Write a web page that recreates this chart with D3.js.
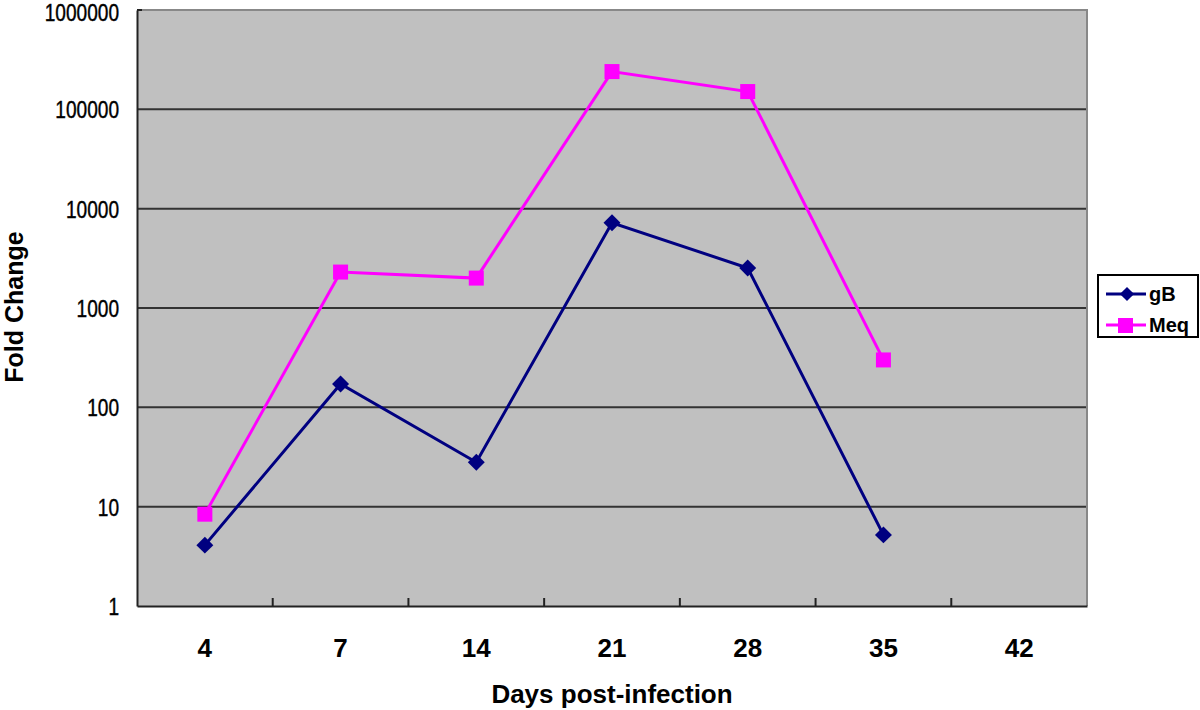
<!DOCTYPE html>
<html><head><meta charset="utf-8">
<script src="https://cdn.jsdelivr.net/npm/d3@7"></script>
<style>body{margin:0;background:#fff;} text{font-family:"Liberation Sans",Arial,sans-serif;}</style>
</head><body>
<svg id="c" width="1200" height="710"></svg>
<script>
const categories = ["4","7","14","21","28","35","42"];
const gB = [4.1, 172, 28, 7200, 2530, 5.2, null];
const Meq = [8.4, 2300, 2000, 240000, 151000, 300, null];
const yTicks = [1,10,100,1000,10000,100000,1000000];
const seriesNames = ["gB","Meq"];
const colors = ["#000080","#FF00FF"];

const svg = d3.select("#c");
const L=137, R=1087, T=10, B=606;
const x = d3.scaleBand().domain(categories).range([L,R]);
const y = d3.scaleLog().domain([1,1e6]).range([B,T]);

svg.append("rect").attr("x",L).attr("y",T).attr("width",R-L).attr("height",B-T).attr("fill","#C0C0C0");
svg.append("g").selectAll("line").data(yTicks.slice(1,-1)).join("line")
  .attr("x1",L).attr("x2",R).attr("y1",d=>y(d)).attr("y2",d=>y(d))
  .attr("stroke","#333").attr("stroke-width",2);
svg.append("path").attr("d",`M${L},${T}H${R}V${B}`).attr("fill","none").attr("stroke","#888").attr("stroke-width",2);

// y axis
const ya = svg.append("g").attr("transform",`translate(${L},0)`)
  .call(d3.axisLeft(y).tickValues(yTicks).tickFormat(d3.format("d")).tickSize(0).tickPadding(18));
ya.select(".domain").attr("stroke","#222").attr("stroke-width",2);
ya.selectAll(".tick text").each(function(d){
  const t = d3.select(this);
  const xx = +t.attr("x");
  const off = d === 1000000 ? 3 : 1;
  t.attr("x",0).attr("transform",`translate(${xx},${off}) scale(0.83,1)`);
}).attr("font-size",23).attr("fill","#000").attr("stroke","#000").attr("stroke-width",0.4)
  .style("font-family","'Liberation Sans',Arial,sans-serif");
svg.append("line").attr("x1",L).attr("x2",L+5).attr("y1",T).attr("y2",T).attr("stroke","#222").attr("stroke-width",2);

// x axis
const xa = svg.append("g").attr("transform",`translate(0,${B})`)
  .call(d3.axisBottom(x).tickSize(0).tickPadding(33));
xa.select(".domain").attr("stroke","#222").attr("stroke-width",2);
xa.selectAll("text").attr("font-size",26).attr("fill","#000")
  .style("font-family","'Liberation Sans',Arial,sans-serif").style("font-weight","bold");
svg.append("g").selectAll("line").data(categories.slice(1)).join("line")
  .attr("x1",d=>x(d)).attr("x2",d=>x(d)).attr("y1",B).attr("y2",B-8)
  .attr("stroke","#222").attr("stroke-width",2);

const cx = d=>x(d)+x.bandwidth()/2;
const line = d3.line().defined(d=>d.v!=null).x(d=>cx(d.c)).y(d=>y(d.v));
const series = [gB, Meq];
series.forEach((vals,i)=>{
  const pts = categories.map((c,j)=>({c, v: vals[j]}));
  svg.append("path").datum(pts).attr("d",line).attr("fill","none")
    .attr("stroke",colors[i]).attr("stroke-width",3);
  const g = svg.append("g");
  pts.filter(d=>d.v!=null).forEach(d=>{
    if(i===0){
      g.append("rect").attr("x",-6).attr("y",-6).attr("width",12).attr("height",12)
       .attr("fill",colors[i]).attr("transform",`translate(${cx(d.c)},${y(d.v)}) rotate(45)`);
    } else {
      g.append("rect").attr("x",cx(d.c)-7.5).attr("y",y(d.v)-7.5).attr("width",15).attr("height",15).attr("fill",colors[i]);
    }
  });
});

svg.append("text").attr("transform","translate(23,307) rotate(-90)").attr("text-anchor","middle")
  .attr("font-size",25).attr("font-weight","bold").text("Fold Change");
svg.append("text").attr("x",612).attr("y",703).attr("text-anchor","middle")
  .attr("font-size",26).attr("font-weight","bold").text("Days post-infection");

// legend
const lg = svg.append("g");
lg.append("rect").attr("x",1098).attr("y",275).attr("width",100).attr("height",62)
  .attr("fill","#fff").attr("stroke","#000").attr("stroke-width",2);
seriesNames.forEach((n,i)=>{
  const yy = 294 + i*31;
  lg.append("line").attr("x1",1106).attr("x2",1146).attr("y1",yy).attr("y2",yy).attr("stroke",colors[i]).attr("stroke-width",3);
  if(i===0){
    lg.append("rect").attr("x",-5).attr("y",-5).attr("width",10).attr("height",10).attr("fill",colors[i])
      .attr("transform",`translate(1127,${yy}) rotate(45)`);
  } else {
    lg.append("rect").attr("x",1118).attr("y",yy-7).attr("width",15).attr("height",15).attr("fill",colors[i]);
  }
  lg.append("text").attr("x",1149).attr("y",yy+7).attr("font-size",20).attr("font-weight","bold").text(n);
});
</script>
</body></html>
